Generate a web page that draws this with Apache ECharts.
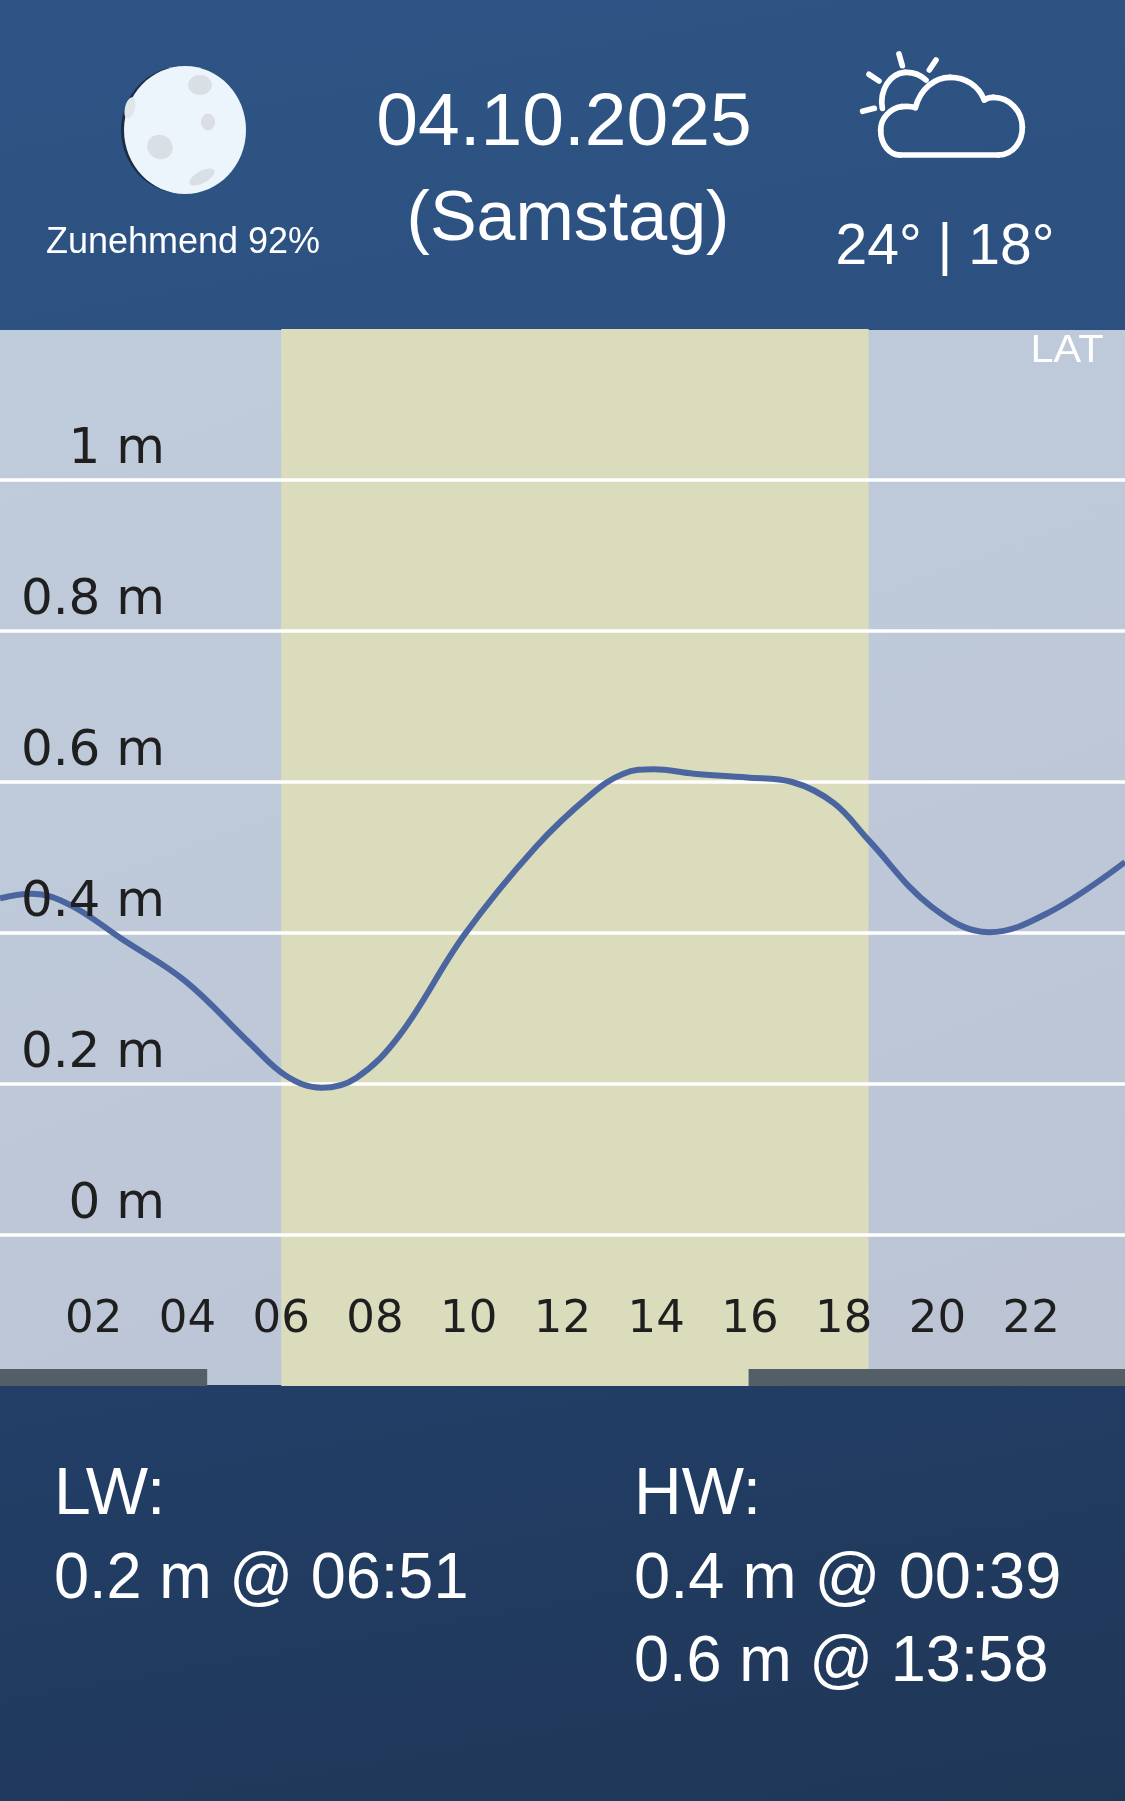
<!DOCTYPE html>
<html><head><meta charset="utf-8">
<style>
html,body{margin:0;padding:0;width:1125px;height:1801px;overflow:hidden;background:#2d5482}
#hd,#pn,#ft,#c{position:absolute;left:0;width:1125px}
#hd{top:0;height:330px;background:linear-gradient(170deg,#2e5485,#2c5180)}
#pn{top:330px;height:1056px;background:linear-gradient(160deg,#bfccdc,#bcc4d4)}
#ft{top:1385px;height:416px;background:linear-gradient(170deg,#233f68,#1f3757)}
#c{top:0;height:1801px}
</style>
<script src="https://cdn.jsdelivr.net/npm/echarts@6/dist/echarts.min.js"></script>
</head><body>
<div id="hd"></div><div id="pn"></div><div id="ft"></div><div id="c"></div>
<script>
const hours = [0,0.68,1.5,2.6,3.96,5.33,6.1,6.86,7.6,8.53,9.9,11.43,12.6,13.3,13.95,14.8,15.94,16.9,17.79,18.53,19.87,21.1,22.4,24];
const levels = [0.446,0.452,0.437,0.392,0.336,0.254,0.211,0.195,0.208,0.265,0.397,0.514,0.583,0.611,0.617,0.611,0.606,0.6,0.572,0.523,0.435,0.401,0.428,0.494];
const daylight = [6, 18.53];
const moonSpans = [[0, 4.42], [15.97, 24]];
const dateLine = '04.10.2025';
const dayLine = '(Samstag)';
const moonLine = 'Zunehmend 92%';
const tempLine = '24° | 18°';
const datumLine = 'LAT';
const lowWater = ['LW:', '0.2 m @ 06:51'];
const highWater = ['HW:', '0.4 m @ 00:39', '0.6 m @ 13:58'];

const SANS = '"Liberation Sans", Arial, sans-serif';
function txt(x, y, s, size, align, sx) {
  return {type:'text', x:x, y:y, scaleX:sx||1, z:10, silent:true,
    style:{text:s, fill:'#fff', font:size+'px '+SANS, textAlign:align||'left', textVerticalAlign:'bottom', verticalAlign:'bottom'}};
}
function ell(cx, cy, rx, ry, fill, extra) {
  return Object.assign({type:'ellipse', z:10, silent:true, shape:{cx:0,cy:0,rx:rx,ry:ry}, x:cx, y:cy, style:{fill:fill}}, extra||{});
}
const iconStyle = {fill:null, stroke:'#fff', lineWidth:17, lineCap:'round', lineJoin:'round'};
const iconBase = {z:10, silent:true, x:850, y:40, scaleX:1/3, scaleY:1/3, style:iconStyle};
function ray(a,b,c,d){ return Object.assign({}, iconBase, {type:'line', shape:{x1:a,y1:b,x2:c,y2:d}}); }
function curve(p){
  return Object.assign({}, iconBase, {type:'bezierCurve', shape:{x1:p[0],y1:p[1],cpx1:p[2],cpy1:p[3],cpx2:p[4],cpy2:p[5],x2:p[6],y2:p[7]}});
}
const sunArc = [[97,205,88,150,120,100,165,97],[165,97,190,96,212,105,228,120]];
const cloudArc = [[445,345,490,345,517,305,517,262],[517,262,517,215,480,172,430,172],[430,172,420,172,410,175,403,180],
  [403,180,385,135,345,112,300,112],[300,112,255,112,212,145,196,203],[196,203,185,199,170,198,155,200],
  [155,200,120,205,92,235,92,270],[92,270,92,315,120,345,150,345]];
const graphics = [
  ell(182,130,61,63.5,'#1d2c47'),
  ell(185,130,61,64,'#edf5fc'),
  ell(200,85,12,10,'#d9dfe4'),
  ell(208,122,7,8.5,'#d9dfe4'),
  ell(160,147,13,12,'#d9dfe4',{rotation:-0.5}),
  ell(202,177,14,6,'#d9dfe4',{rotation:0.5}),
  ell(130,108,5,11,'#e0e6ec',{rotation:-0.25}),
  ...sunArc.map(curve),
  ray(147,42,157,77), ray(258,60,238,90), ray(57,103,87,123), ray(38,214,73,205),
  ray(150,345,445,345),
  ...cloudArc.map(curve),
  txt(564,162,dateLine,75,'center'),
  txt(568,256,dayLine,70,'center'),
  txt(183,261,moonLine,36,'center'),
  txt(945,277,tempLine,57,'center'),
  txt(1067,371,datumLine,38,'center',1.09),
  txt(54,1529,lowWater[0],66), txt(54,1613,lowWater[1],65,'left',0.97),
  txt(634,1529,highWater[0],66), txt(634,1613,highWater[1],65), txt(634,1696,highWater[2],65,'left',0.97)
];

const labelFont = {fontFamily:'"DejaVu Sans", "Liberation Sans", sans-serif', color:'#1f1f1f'};
const chart = echarts.init(document.getElementById('c'), null, {renderer:'canvas'});
chart.setOption({
  backgroundColor:'transparent', animation:false,
  grid:{left:0, right:0, top:329, height:1057, containLabel:false},
  xAxis:{type:'value', min:0, max:24, interval:2, z:1,
    axisLine:{show:false}, axisTick:{show:false}, splitLine:{show:false},
    axisLabel:Object.assign({inside:true, margin:43, fontSize:45, verticalAlign:'bottom', showMinLabel:false, showMaxLabel:false,
      formatter:v=>String(v).padStart(2,'0')}, labelFont)},
  yAxis:[
    {type:'value', min:-0.2, max:1.2, interval:0.2, z:1,
      axisLine:{show:false}, axisTick:{show:false}, axisLabel:{show:false},
      splitLine:{show:true, showMinLine:false, showMaxLine:false, lineStyle:{color:'#fff', width:3.5}}},
    {type:'value', min:-0.2, max:1.2, interval:0.2, z:5, position:'left',
      axisLine:{show:false}, axisTick:{show:false}, splitLine:{show:false},
      axisLabel:Object.assign({inside:true, margin:165, fontSize:50, align:'right', verticalAlign:'bottom', padding:[0,0,5,0], showMinLabel:false, showMaxLabel:false,
        formatter:v=>v+' m'}, labelFont)}
  ],
  series:[
    {type:'line', z:-2, data:[], silent:true,
      markArea:{z:-2, silent:true, itemStyle:{color:'#dbdcbc'}, data:[[{xAxis:daylight[0]},{xAxis:daylight[1]}]]}},
    {type:'line', z:-1, data:[], silent:true,
      markArea:{z:-1, silent:true, itemStyle:{color:'#535e66'},
        data:moonSpans.map(s=>[{xAxis:s[0],yAxis:-0.2},{xAxis:s[1],yAxis:-0.1775}])}},
    {type:'line', z:2, smooth:0.38, showSymbol:false, silent:true,
      lineStyle:{color:'#4a659f', width:6},
      data:hours.map((h,i)=>[h,levels[i]])}
  ],
  graphic:graphics
});
</script>
</body></html>
